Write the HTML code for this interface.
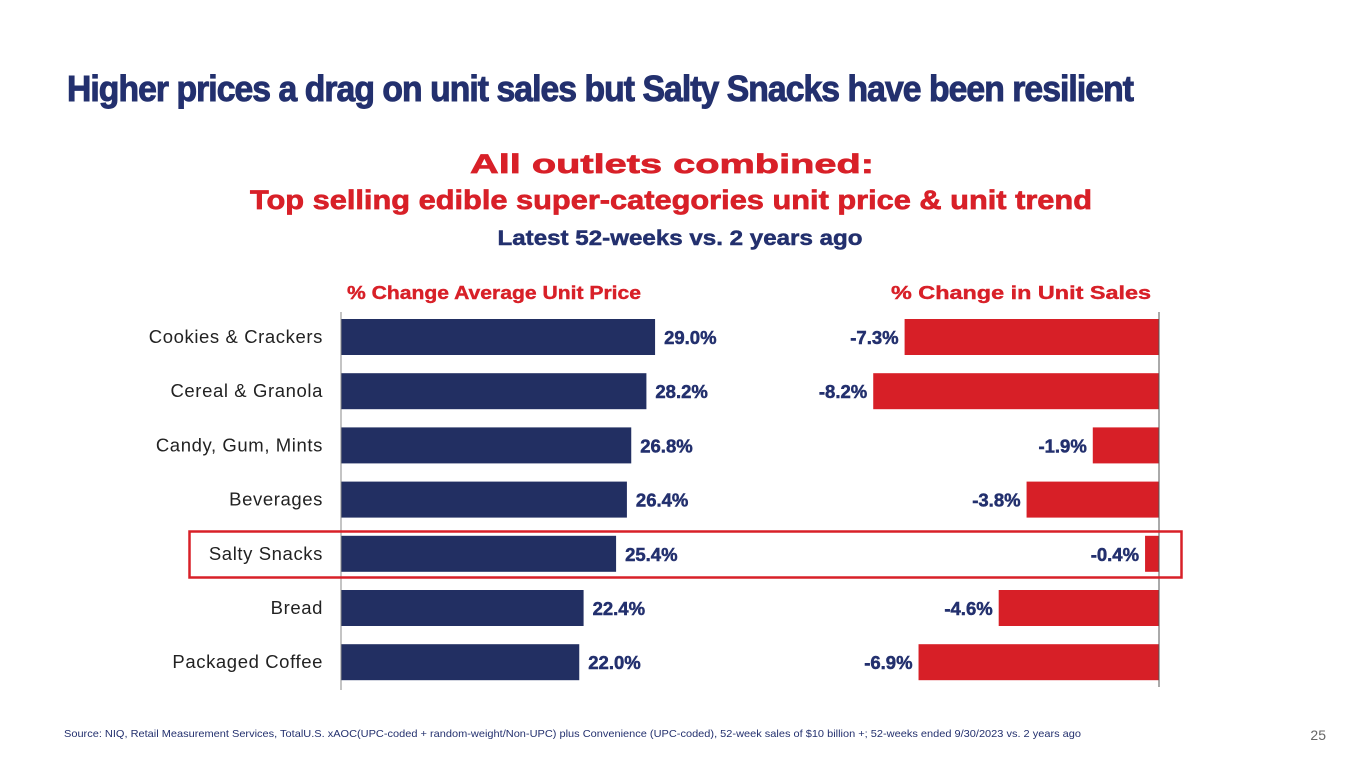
<!DOCTYPE html>
<html><head><meta charset="utf-8"><style>
html,body{margin:0;padding:0;background:#fff;}
svg{display:block;font-family:"Liberation Sans",sans-serif;}
</style></head><body>
<svg id="c" width="1365" height="768" viewBox="0 0 1365 768">
<text x="67" y="101" font-size="36" font-weight="bold" fill="#23306e" stroke="#23306e" stroke-width="1" letter-spacing="-1" textLength="1066" lengthAdjust="spacingAndGlyphs">Higher prices a drag on unit sales but Salty Snacks have been resilient</text>
<text x="672" y="173" font-size="27" font-weight="bold" fill="#d82028" stroke="#d82028" stroke-width="0.7" text-anchor="middle" textLength="404" lengthAdjust="spacingAndGlyphs">All outlets combined:</text>
<text x="671" y="209" font-size="27" font-weight="bold" fill="#d82028" stroke="#d82028" stroke-width="0.7" text-anchor="middle" textLength="842" lengthAdjust="spacingAndGlyphs">Top selling edible super-categories unit price &amp; unit trend</text>
<text x="680" y="245" font-size="21" font-weight="bold" fill="#23306e" stroke="#23306e" stroke-width="0.5" text-anchor="middle" textLength="365" lengthAdjust="spacingAndGlyphs">Latest 52-weeks vs. 2 years ago</text>
<text x="347" y="299" font-size="18" font-weight="bold" fill="#d82028" stroke="#d82028" stroke-width="0.4" textLength="294" lengthAdjust="spacingAndGlyphs">% Change Average Unit Price</text>
<text x="891" y="299" font-size="18" font-weight="bold" fill="#d82028" stroke="#d82028" stroke-width="0.4" textLength="260" lengthAdjust="spacingAndGlyphs">% Change in Unit Sales</text>
<g id="bars"></g>
<rect x="189.5" y="531.5" width="992" height="46" fill="none" stroke="#d82028" stroke-width="2.5"/>
<text x="64" y="737" font-size="10.5" fill="#23306e" textLength="1017" lengthAdjust="spacingAndGlyphs">Source: NIQ, Retail Measurement Services, TotalU.S. xAOC(UPC-coded + random-weight/Non-UPC) plus Convenience (UPC-coded), 52-week sales of $10 billion +; 52-weeks ended 9/30/2023 vs. 2 years ago</text>
<text x="1326" y="740" font-size="14" fill="#666" text-anchor="end">25</text>
</svg>
<script>
const categories = ["Cookies & Crackers","Cereal & Granola","Candy, Gum, Mints","Beverages","Salty Snacks","Bread","Packaged Coffee"];
const priceChange = [29.0,28.2,26.8,26.4,25.4,22.4,22.0];
const unitChange = [-7.3,-8.2,-1.9,-3.8,-0.4,-4.6,-6.9];

const NS="http://www.w3.org/2000/svg";
const g=document.getElementById('bars');
const leftAxis=341, rightAxis=1159, top0=319, step=54.2, barH=36;
const xPrice=v=>leftAxis+v*10.83;
const xUnit=v=>rightAxis+v*34.85;
function mk(tag,attrs){const e=document.createElementNS(NS,tag);for(const k in attrs)e.setAttribute(k,attrs[k]);g.appendChild(e);return e;}
categories.forEach((c,i)=>{
  const y=top0+i*step, cy=y+barH/2;
  const lab=mk('text',{x:323,y:cy+6,'font-size':18.5,fill:'#222','text-anchor':'end','letter-spacing':'0.6'});
  lab.textContent=c;
  
  
  const pb=mk('rect',{x:leftAxis,y:y,width:xPrice(priceChange[i])-leftAxis,height:barH,fill:'#222f62'});
  
  
  const pv=mk('text',{x:xPrice(priceChange[i])+9,y:cy+7,'font-size':18.5,'font-weight':'bold',fill:'#23306e',stroke:'#23306e','stroke-width':0.5});
  pv.textContent=priceChange[i].toFixed(1)+'%';
  
  
  const ux=xUnit(unitChange[i]);
  const ub=mk('rect',{x:ux,y:y,width:rightAxis-ux,height:barH,fill:'#d71f27'});
  
  
  const uv=mk('text',{x:ux-6,y:cy+7,'font-size':18.5,'font-weight':'bold',fill:'#23306e',stroke:'#23306e','stroke-width':0.5,'text-anchor':'end'});
  uv.textContent=unitChange[i].toFixed(1)+'%';
  
  
});
const a1=mk('line',{x1:leftAxis,x2:leftAxis,y1:312,y2:690,stroke:'#888','stroke-width':1});


const a2=mk('line',{x1:rightAxis,x2:rightAxis,y1:312,y2:687,stroke:'#555','stroke-width':1});


</script>
</body></html>
